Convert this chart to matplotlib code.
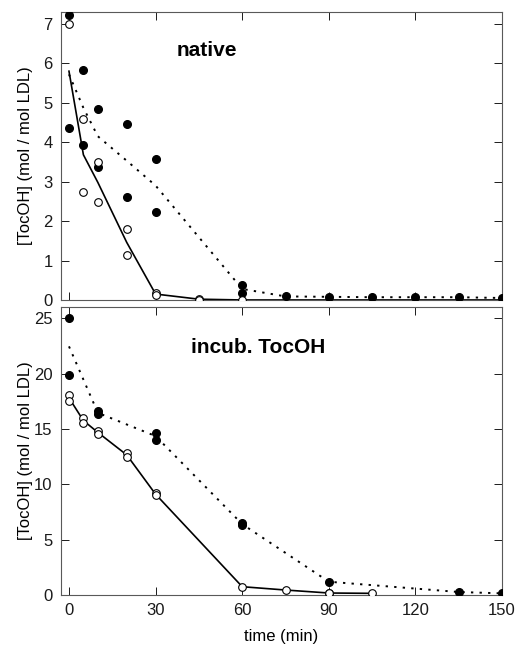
import matplotlib
matplotlib.use("Agg")
import matplotlib.pyplot as plt

plt.rcParams['font.family'] = ['Liberation Sans', 'DejaVu Sans']

# --- native LDL ---
nat_open_t = [0, 5, 5, 10, 10, 20, 20, 30, 30, 45, 45, 60]
nat_open_y = [7.0, 4.59, 2.73, 3.49, 2.48, 1.79, 1.14, 0.17, 0.13, 0.03, 0.0, 0.0]
nat_fill_t = [0, 0, 5, 5, 10, 10, 20, 20, 30, 30, 60, 60, 75, 90, 105, 120, 135, 150]
nat_fill_y = [7.22, 4.37, 5.84, 3.92, 4.83, 3.36, 4.46, 2.61, 3.57, 2.24, 0.37, 0.18,
              0.09, 0.08, 0.07, 0.07, 0.07, 0.05]
nat_solid_t = [0, 5, 10, 20, 30, 45, 60, 150]
nat_solid_y = [5.8, 3.68, 2.98, 1.46, 0.15, 0.02, 0.0, 0.0]
nat_dot_t = [0, 5, 10, 20, 30, 60, 75, 90, 105, 120, 135, 150]
nat_dot_y = [5.72, 4.87, 4.15, 3.53, 2.9, 0.28, 0.09, 0.08, 0.07, 0.07, 0.07, 0.05]

# --- incubated with TocOH ---
inc_open_t = [0, 0, 5, 5, 10, 10, 20, 20, 30, 30, 60, 75, 90, 90, 105]
inc_open_y = [18.1, 17.5, 16.0, 15.5, 14.8, 14.55, 12.8, 12.5, 9.2, 9.0, 0.75, 0.45, 0.2, 0.15, 0.15]
inc_fill_t = [0, 0, 10, 10, 30, 30, 60, 60, 90, 135, 150]
inc_fill_y = [25.0, 19.9, 16.6, 16.3, 14.67, 14.04, 6.52, 6.3, 1.2, 0.27, 0.15]
inc_solid_t = [0, 5, 10, 20, 30, 60, 75, 90, 105]
inc_solid_y = [17.8, 15.75, 14.68, 12.65, 9.1, 0.75, 0.45, 0.18, 0.15]
inc_dot_t = [0, 10, 30, 60, 90, 135, 150]
inc_dot_y = [22.45, 16.45, 14.35, 6.4, 1.2, 0.27, 0.15]

xticks = [0, 30, 60, 90, 120, 150]

fig = plt.figure(figsize=(5.16, 6.5), dpi=100)
ax1 = fig.add_axes([0.118, 0.5385, 0.855, 0.443])
ax2 = fig.add_axes([0.118, 0.0846, 0.855, 0.443])

panels = [
    (ax1, nat_open_t, nat_open_y, nat_fill_t, nat_fill_y, nat_solid_t, nat_solid_y,
     nat_dot_t, nat_dot_y, (0, 7.3), range(0, 8), "native", (0.331, 0.868)),
    (ax2, inc_open_t, inc_open_y, inc_fill_t, inc_fill_y, inc_solid_t, inc_solid_y,
     inc_dot_t, inc_dot_y, (0, 26), range(0, 26, 5), "incub. TocOH", (0.447, 0.858)),
]

for (ax, ot, oy, ft, fy, st, sy, dt, dy, ylim, yticks, label, pos) in panels:
    ax.plot(st, sy, color='black', lw=1.2, zorder=2)
    ax.plot(dt, dy, color='black', lw=1.4, linestyle=(0, (1.2, 3.2)), zorder=2)
    ax.plot(ft, fy, 'o', color='black', ms=5.5, zorder=3)
    ax.plot(ot, oy, 'o', mfc='white', mec='black', mew=0.8, ms=5.5, zorder=4)
    ax.set_xlim(-2.8, 150)
    ax.set_ylim(*ylim)
    ax.set_xticks(xticks)
    ax.set_yticks(list(yticks))
    ax.tick_params(direction='in', length=6, width=0.7, top=True, right=True,
                   labelsize=12, colors='0.1', pad=6)
    for s in ax.spines.values():
        s.set_linewidth(0.8)
        s.set_color('0.35')
    ax.set_ylabel('[TocOH] (mol / mol LDL)', fontsize=12)
    ax.yaxis.set_label_coords(-0.064, 0.5)
    ax.text(pos[0], pos[1], label, transform=ax.transAxes, ha='center', va='center',
            fontsize=15, fontweight='bold')

ax1.tick_params(labelbottom=False)
ax2.set_xlabel('time (min)', fontsize=12, labelpad=8)

fig.savefig('out.png', dpi=100)
